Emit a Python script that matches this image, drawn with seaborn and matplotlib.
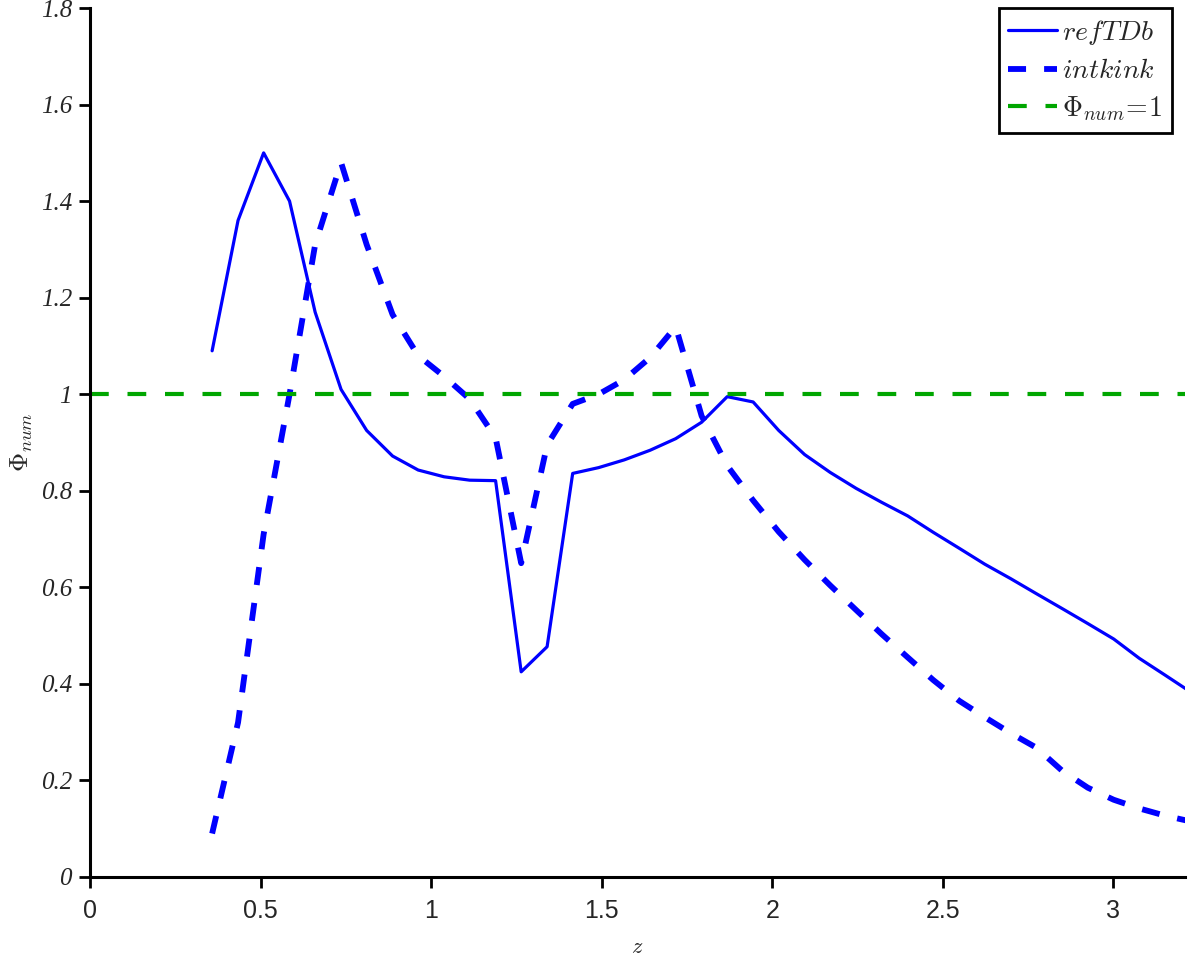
import matplotlib
matplotlib.use("Agg")
import matplotlib.pyplot as plt
import numpy as np
import pandas as pd
import seaborn as sns

# ---------------- data ----------------
z = [0.358, 0.434, 0.509, 0.585, 0.660, 0.736, 0.811, 0.887, 0.962, 1.038,
     1.113, 1.189, 1.264, 1.340, 1.415, 1.491, 1.566, 1.642, 1.717, 1.793,
     1.868, 1.944, 2.019, 2.095, 2.170, 2.246, 2.321, 2.397, 2.472, 2.548,
     2.623, 2.699, 2.774, 2.850, 2.925, 3.001, 3.076, 3.152, 3.227]

ref_tdb = [1.09, 1.36, 1.50, 1.40, 1.17, 1.01, 0.925, 0.872, 0.843, 0.829,
           0.822, 0.821, 0.425, 0.477, 0.836, 0.848, 0.864, 0.884, 0.908, 0.942,
           0.995, 0.984, 0.925, 0.875, 0.838, 0.805, 0.776, 0.748, 0.714, 0.681,
           0.648, 0.618, 0.587, 0.556, 0.525, 0.493, 0.453, 0.418, 0.383]

intkink = [0.09, 0.32, 0.71, 1.00, 1.31, 1.48, 1.31, 1.165, 1.08, 1.037,
           0.99, 0.91, 0.65, 0.895, 0.98, 1.00, 1.03, 1.076, 1.14, 0.955,
           0.852, 0.780, 0.715, 0.657, 0.604, 0.553, 0.503, 0.455, 0.408, 0.365,
           0.331, 0.298, 0.268, 0.220, 0.185, 0.160, 0.142, 0.127, 0.115]

phi_ref = 1.0

x_ticks = [0, 0.5, 1, 1.5, 2, 2.5, 3]
x_ticklabels = ["0", "0.5", "1", "1.5", "2", "2.5", "3"]
y_ticks = [0, 0.2, 0.4, 0.6, 0.8, 1.0, 1.2, 1.4, 1.6, 1.8]
y_ticklabels = ["0", "0.2", "0.4", "0.6", "0.8", "1", "1.2", "1.4", "1.6", "1.8"]

labels = [r"$refTDb$", r"$intkink$", r"$\Phi_{num}\!=\!1$"]

# ---------------- style ----------------
sns.set_style("ticks")
plt.rcParams["font.family"] = ["DejaVu Sans"]
plt.rcParams["mathtext.fontset"] = "cm"
plt.rcParams["lines.scale_dashes"] = False

df = pd.DataFrame({"z": z, "ref": ref_tdb, "kink": intkink})

fig, ax = plt.subplots(figsize=(12, 9.57), dpi=100)
fig.subplots_adjust(left=0.075, right=0.9875, bottom=0.0836, top=0.9916)

blue = "#0000FF"
green = "#00A600"

sns.lineplot(data=df, x="z", y="ref", ax=ax, color=blue, lw=2.3,
             label=labels[0], sort=False)
sns.lineplot(data=df, x="z", y="kink", ax=ax, color=blue, lw=4.2,
             linestyle=(0, (13, 13)), label=labels[1], sort=False)
ax.axhline(phi_ref, color=green, lw=3.0, linestyle=(0, (13.5, 13.5)),
           label=labels[2])

ax.set_xlim(0, 3.21)
ax.set_ylim(0, 1.8)

ax.set_xticks(x_ticks)
ax.set_xticklabels(x_ticklabels, fontsize=18, family="Liberation Sans")
ax.set_yticks(y_ticks)
ax.set_yticklabels(y_ticklabels, fontsize=18, family="Liberation Serif",
                   style="italic")

ax.tick_params(axis="both", direction="out", length=8, width=2, color="black")
ax.tick_params(axis="x", pad=8)
ax.tick_params(axis="y", pad=5)

for side in ["top", "right"]:
    ax.spines[side].set_visible(False)
for side in ["left", "bottom"]:
    ax.spines[side].set_linewidth(2.2)
    ax.spines[side].set_color("black")

ax.set_xlabel(r"$z$", fontsize=16, labelpad=10)
ax.set_ylabel(r"$\Phi_{num}$", fontsize=19, labelpad=4)

leg = ax.legend(loc="upper right", bbox_to_anchor=(0.9767, 0.9916),
                bbox_transform=fig.transFigure, fontsize=20,
                frameon=True, fancybox=False, framealpha=1,
                edgecolor="black", handlelength=1.75, handletextpad=0.2,
                labelspacing=0.35, borderaxespad=0, borderpad=0.35)
leg.get_frame().set_linewidth(2.0)

fig.savefig("out.png", dpi=100)
